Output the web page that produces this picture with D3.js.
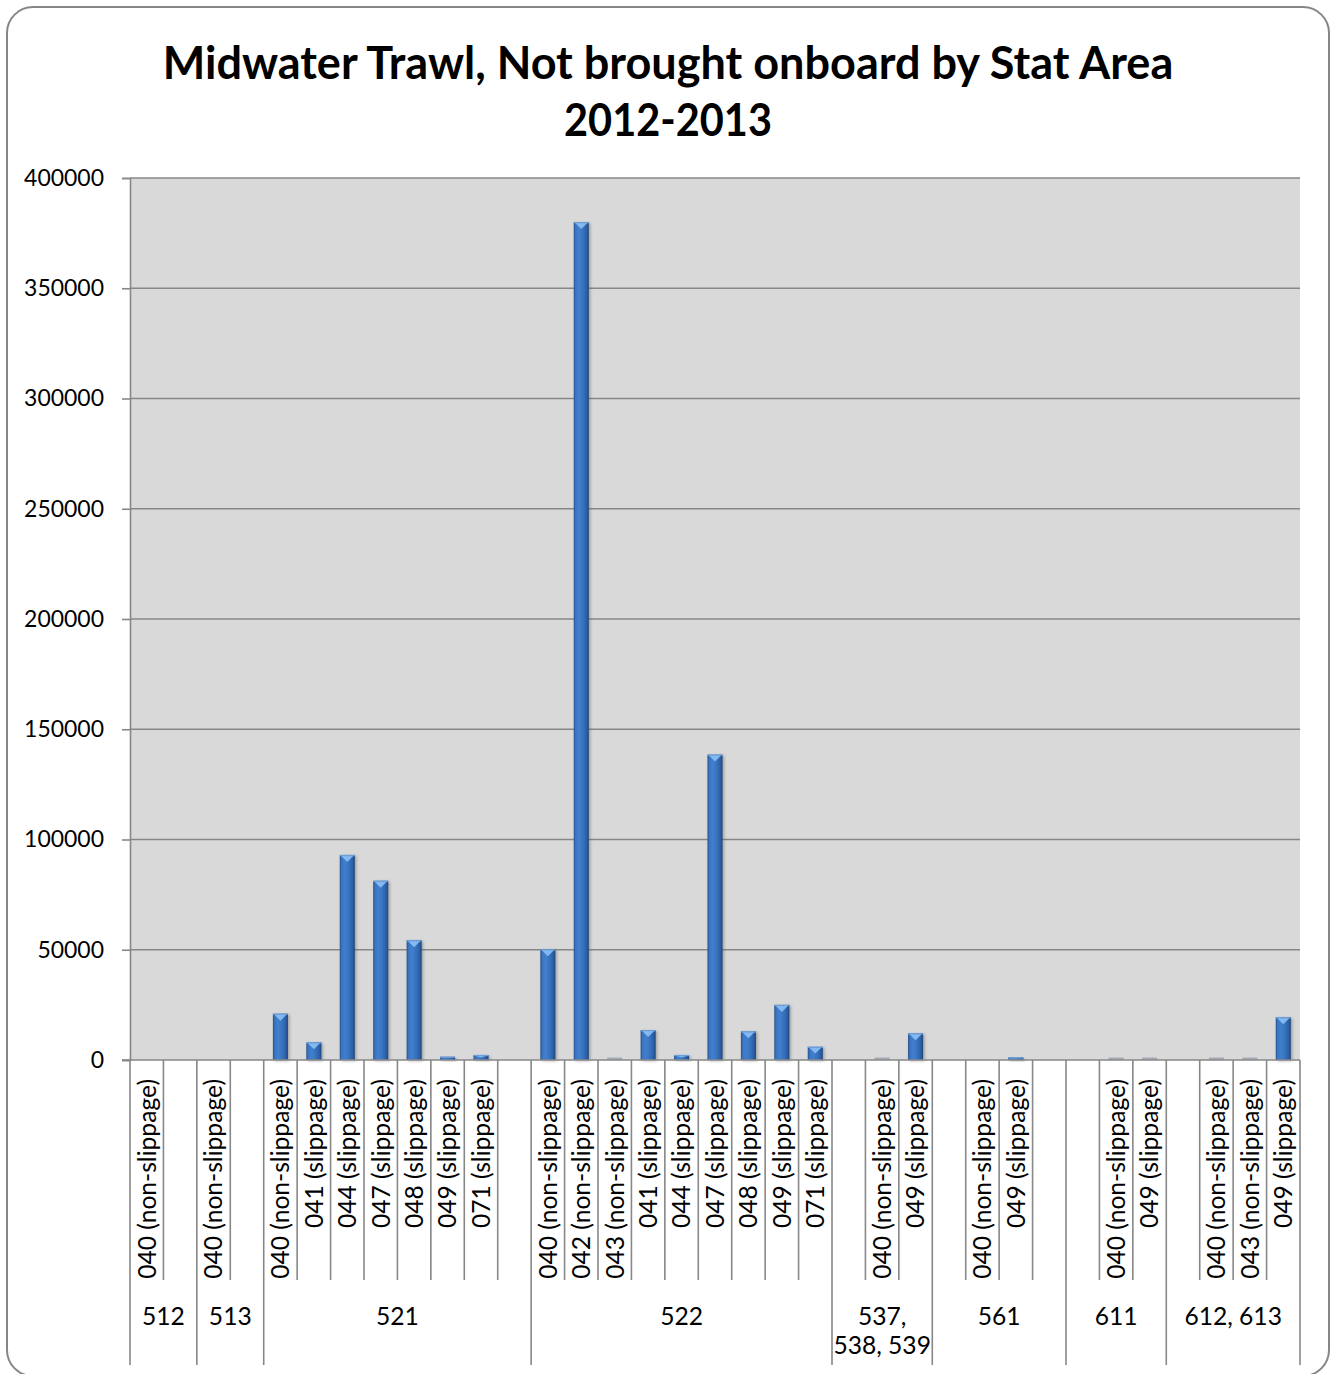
<!DOCTYPE html>
<html>
<head>
<meta charset="utf-8">
<script src="https://cdn.jsdelivr.net/npm/d3@7"></script>
<style>
  html, body { margin: 0; padding: 0; background: #ffffff; }
  svg { display: block; }
  text { font-family: "Lato", "Open Sans", "DejaVu Sans", sans-serif; fill: #000; }
</style>
</head>
<body>
<script>
// ---------------- DATA ----------------
const titleLines = ["Midwater Trawl, Not brought onboard by Stat Area", "2012-2013"];

// one entry per category slot (blank labels are empty slots in the source table)
const categories = [
  "040 (non-slippage)", "",
  "040 (non-slippage)", "",
  "040 (non-slippage)", "041 (slippage)", "044 (slippage)", "047 (slippage)", "048 (slippage)", "049 (slippage)", "071 (slippage)", "",
  "040 (non-slippage)", "042 (non-slippage)", "043 (non-slippage)", "041 (slippage)", "044 (slippage)", "047 (slippage)", "048 (slippage)", "049 (slippage)", "071 (slippage)",
  "", "040 (non-slippage)", "049 (slippage)",
  "", "040 (non-slippage)", "049 (slippage)", "",
  "", "040 (non-slippage)", "049 (slippage)",
  "", "040 (non-slippage)", "043 (non-slippage)", "049 (slippage)"
];

const statAreas = [
  "512", "512",
  "513", "513",
  "521", "521", "521", "521", "521", "521", "521", "521",
  "522", "522", "522", "522", "522", "522", "522", "522", "522",
  "537, 538, 539", "537, 538, 539", "537, 538, 539",
  "561", "561", "561", "561",
  "611", "611", "611",
  "612, 613", "612, 613", "612, 613", "612, 613"
];

const values = [
  null, null,
  null, null,
  21000, 8000, 93000, 81300, 54300, 1500, 2300, null,
  50200, 380000, 0, 13600, 2300, 138500, 13000, 25000, 6000,
  null, 0, 12100,
  null, null, 1200, null,
  null, 0, 0,
  null, 0, 0, 19400
];

const yTicks = [0, 50000, 100000, 150000, 200000, 250000, 300000, 350000, 400000];

// ---------------- LAYOUT ----------------
const W = 1336, H = 1374;
const plot = { left: 130, right: 1300, top: 178, bottom: 1060 };
const labelTierBottom = 1280;
const groupTierBottom = 1365;

const svg = d3.select("body").append("svg")
  .attr("width", W).attr("height", H);

const defs = svg.append("defs");
const barGrad = defs.append("linearGradient").attr("id", "barGrad")
  .attr("x1", "0%").attr("x2", "100%").attr("y1", "0%").attr("y2", "0%");
[["0%", "#244f8c"], ["12%", "#3a74c0"], ["35%", "#4180cf"], ["65%", "#3670bb"], ["88%", "#2a5ca0"], ["100%", "#1c4479"]]
  .forEach(([o, c]) => barGrad.append("stop").attr("offset", o).attr("stop-color", c));
const blur = defs.append("filter").attr("id", "shadow").attr("x", "-50%").attr("y", "-10%").attr("width", "200%").attr("height", "120%");
blur.append("feGaussianBlur").attr("stdDeviation", 1.6);

// outer rounded frame
svg.append("rect")
  .attr("x", 7).attr("y", 7).attr("width", 1322).attr("height", 1369)
  .attr("rx", 26).attr("ry", 26)
  .attr("fill", "#ffffff").attr("stroke", "#868686").attr("stroke-width", 2);

// helper: fit font size so that a string gets a target width
function fitSize(str, weight, target, base) {
  const t = svg.append("text").attr("font-size", base).attr("font-weight", weight).text(str);
  const w = t.node().getComputedTextLength();
  t.remove();
  return base * target / w;
}

// ---------------- TITLE ----------------
const titleSize = fitSize(titleLines[0], "bold", 1011, 46);
svg.append("text")
  .attr("x", 668).attr("y", 62)
  .attr("text-anchor", "middle").attr("dominant-baseline", "central")
  .attr("font-weight", "bold").attr("font-size", titleSize)
  .text(titleLines[0]);
svg.append("text")
  .attr("x", 668).attr("y", 119)
  .attr("text-anchor", "middle").attr("dominant-baseline", "central")
  .attr("font-weight", "bold").attr("font-size", titleSize)
  .attr("textLength", 208).attr("lengthAdjust", "spacingAndGlyphs")
  .text(titleLines[1]);

// ---------------- SCALES ----------------
const x = d3.scaleBand().domain(d3.range(categories.length))
  .range([plot.left, plot.right]).paddingInner(0).paddingOuter(0);
const y = d3.scaleLinear().domain([0, 400000]).range([plot.bottom, plot.top]);

// plot background
svg.append("rect")
  .attr("x", plot.left).attr("y", y(400000))
  .attr("width", plot.right - plot.left).attr("height", y(0) - y(400000))
  .attr("fill", "#d9d9d9");

// gridlines
svg.append("g").selectAll("line").data(yTicks.filter(d => d > 0)).join("line")
  .attr("x1", plot.left).attr("x2", plot.right)
  .attr("y1", d => y(d)).attr("y2", d => y(d))
  .attr("stroke", "#878787").attr("stroke-width", 1.6);

// y axis
const labelSize = fitSize("040 (non-slippage)", "normal", 200, 26);
const yLabelSize = fitSize("400000", "normal", 80, 26);
const yAxis = svg.append("g").attr("transform", `translate(${plot.left},0)`)
  .call(d3.axisLeft(y).tickValues(yTicks).tickSize(8).tickPadding(18).tickFormat(d3.format("d")));
yAxis.select(".domain").attr("stroke", "#878787").attr("stroke-width", 1.6);
yAxis.selectAll(".tick line").attr("stroke", "#878787").attr("stroke-width", 1.6);
yAxis.selectAll(".tick text")
  .attr("font-size", yLabelSize)
  .attr("font-family", "Lato, 'Open Sans', sans-serif")
  .attr("fill", "#000");

// ---------------- BARS ----------------
const bw = x.bandwidth() * 0.45;
const barData = values.map((v, i) => ({ i, v })).filter(d => d.v !== null);
const bars = svg.append("g").selectAll("g").data(barData).join("g")
  .attr("transform", d => `translate(${x(d.i) + (x.bandwidth() - bw) / 2},0)`);

// shadow
bars.filter(d => d.v > 0).append("rect")
  .attr("x", 1.5).attr("y", d => y(d.v) + 1)
  .attr("width", bw).attr("height", d => y(0) - y(d.v))
  .attr("fill", "#555").attr("opacity", 0.45).attr("filter", "url(#shadow)");
// body
bars.filter(d => d.v > 0).append("rect")
  .attr("x", 0).attr("y", d => y(d.v))
  .attr("width", bw).attr("height", d => y(0) - y(d.v))
  .attr("fill", "url(#barGrad)");
// top bevel
bars.filter(d => d.v > 0 && (y(0) - y(d.v)) > 4).append("path")
  .attr("d", d => {
    const t = y(d.v), h = Math.min(7, (y(0) - y(d.v)) * 0.5);
    return `M1,${t + 0.5} L${bw - 1},${t + 0.5} L${bw / 2},${t + h} Z`;
  })
  .attr("fill", "#8cc0f5").attr("opacity", 0.9);
bars.filter(d => d.v > 0).append("rect")
  .attr("x", 0).attr("y", d => y(d.v))
  .attr("width", bw).attr("height", 1.2)
  .attr("fill", "#6c9fd9");
// zero-height bars show only the bevel edge
bars.filter(d => d.v === 0).append("rect")
  .attr("x", 0).attr("y", y(0) - 2.5)
  .attr("width", bw).attr("height", 2.5)
  .attr("fill", "#a3abb6");

// ---------------- X AXIS ----------------
const xg = svg.append("g");
xg.append("line")
  .attr("x1", plot.left - 8).attr("x2", plot.right)
  .attr("y1", y(0)).attr("y2", y(0))
  .attr("stroke", "#878787").attr("stroke-width", 1.6);

// group spans
const groups = [];
statAreas.forEach((a, i) => {
  const last = groups[groups.length - 1];
  if (last && last.name === a) last.end = i;
  else groups.push({ name: a, start: i, end: i });
});
const boundaries = d3.range(categories.length + 1);
const groupStarts = new Set(groups.map(g => g.start).concat([categories.length]));
const posOf = k => (k === categories.length ? x.range()[1] : x(k));

xg.selectAll("line.tick").data(boundaries).join("line")
  .attr("class", "tick")
  .attr("x1", posOf).attr("x2", posOf)
  .attr("y1", y(0))
  .attr("y2", k => groupStarts.has(k) ? groupTierBottom : labelTierBottom)
  .attr("stroke", "#878787").attr("stroke-width", 1.6);

// category labels (rotated)
xg.selectAll("text.cat").data(categories.map((c, i) => ({ c, i })).filter(d => d.c)).join("text")
  .attr("class", "cat")
  .attr("transform", d => `translate(${x(d.i) + x.bandwidth() / 2},${y(0) + 19}) rotate(-90)`)
  .attr("text-anchor", "end").attr("dy", "0.36em")
  .attr("font-size", labelSize)
  .text(d => d.c);

// group labels (wrapped when wider than the group)
groups.forEach(g => {
  const x0 = posOf(g.start), x1 = posOf(g.end + 1);
  const cx = (x0 + x1) / 2;
  const t = xg.append("text").attr("x", cx).attr("y", 1316)
    .attr("text-anchor", "middle").attr("dy", "0.36em")
    .attr("font-size", labelSize).text(g.name);
  if (t.node().getComputedTextLength() > (x1 - x0) - 6) {
    const parts = g.name.split(" ");
    t.text(null);
    t.append("tspan").attr("x", cx).attr("dy", "0.36em").text(parts[0]);
    t.append("tspan").attr("x", cx).attr("dy", "1.2em").text(parts.slice(1).join(" "));
  }
});
</script>
</body>
</html>
